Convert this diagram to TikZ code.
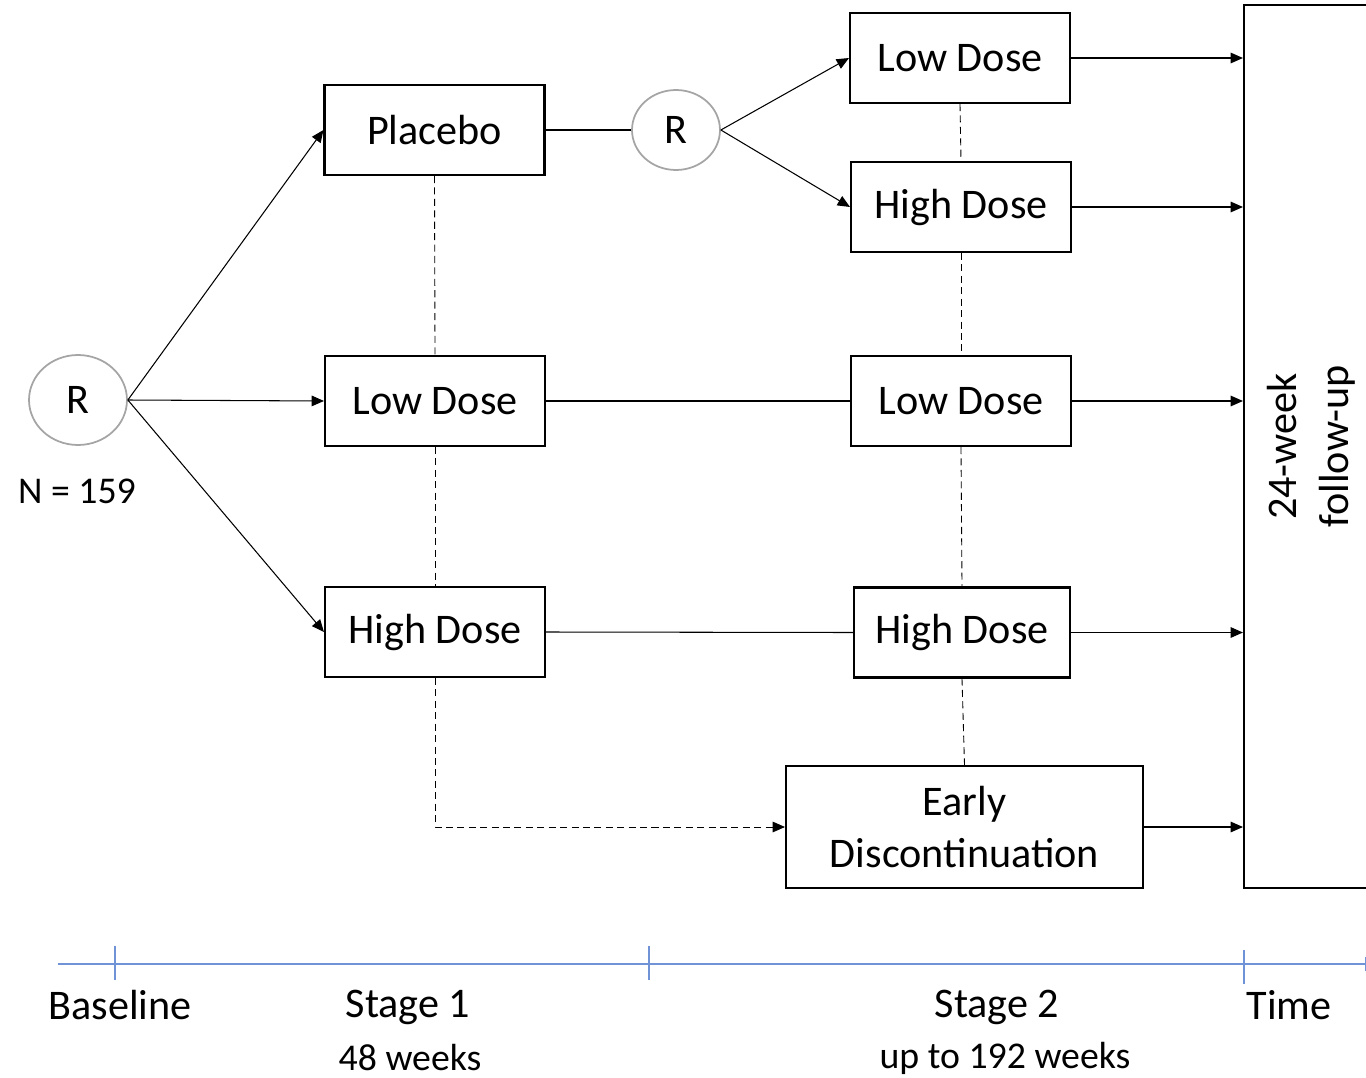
\documentclass[tikz,border=0pt]{standalone}
\usepackage{fontspec}
\setmainfont{Carlito}
\usetikzlibrary{arrows.meta,shapes.geometric}
\definecolor{axBlue}{RGB}{112,146,214}
\definecolor{rGray}{RGB}{165,165,165}

\begin{document}
\begin{tikzpicture}[x=0.02cm, y=-0.02cm,
  font=\fontsize{24}{29.5}\selectfont,
  small/.style={font=\fontsize{21.5}{26}\selectfont},
  box/.style={draw, line width=1.2pt, minimum width=4.4cm, minimum height=1.8cm, inner sep=2pt, align=center},
  rnd/.style={draw=rGray, line width=1pt, ellipse, minimum width=1.96cm, minimum height=1.8cm, inner sep=0pt},
  arr/.style={-{Triangle[length=7pt,width=6pt]}, line width=0.6pt},
  lnk/.style={line width=0.6pt},
  dsh/.style={line width=0.5pt, dash pattern=on 4pt off 2.5pt},
  axis/.style={axBlue, line width=0.8pt, -{Rays[n=2,length=5pt,width=8pt]}},
  axtick/.style={axBlue, line width=0.8pt},
]
\useasboundingbox (0,0) rectangle (1366,1078);
% stage 1
\node[rnd] (r1) at (78,400) {R};
\node[small] (n) at (77,491) {N = 159};
\node[box] (plac) at (434.5,130) {Placebo};
\node[box] (low1) at (435,401) {Low Dose};
\node[box] (high1) at (435,632) {High Dose};
\draw[arr] (r1.east) -- (plac.west);
\draw[arr] (r1.east) -- (low1.west);
\draw[arr] (r1.east) -- (high1.west);
% stage 2
\node[rnd, minimum width=1.76cm, minimum height=1.6cm] (r2) at (676,130) {R};
\node[box] (low2a) at (960,58) {Low Dose};
\node[box] (high2a) at (961,207) {High Dose};
\node[box] (low2b) at (961,401) {Low Dose};
\node[box, minimum width=4.32cm] (high2b) at (962,632.5) {High Dose};
\node[box, minimum width=7.14cm, minimum height=2.44cm] (early) at (964.5,827) {Early\\Discontinuation};
\draw[lnk] (plac.east) -- (r2.west);
\draw[arr] (r2.east) -- (low2a.west);
\draw[arr] (r2.east) -- (high2a.west);
\draw[lnk] (low1.east) -- (low2b.west);
\draw[lnk] (high1.east) -- (high2b.west);
% dashed links
\draw[dsh] (plac.south) -- (low1.north);
\draw[dsh] (low1.south) -- (high1.north);
\draw[dsh, -{Triangle[length=7pt,width=6pt]}] (high1.south) |- (early.west);
\draw[dsh] (low2a.south) -- (high2a.north);
\draw[dsh] (high2a.south) -- (low2b.north);
\draw[dsh] (low2b.south) -- (high2b.north);
\draw[dsh] (high2b.south) -- (early.north);
% follow-up (rotated, so north is its left side)
\node[box, rotate=90, minimum width=17.66cm, minimum height=2.7cm] (fu) at (1311.5,446.5) {24-week\\follow-up};
\foreach \b in {low2a,high2a,low2b,high2b,early}
  \draw[arr] (\b.east) -- (\b.east -| fu.north);
% time axis
\coordinate (ax0) at (58,964);
\coordinate (ax1) at (1366,964);
\draw[axis] (ax0) -- (ax1);
\foreach \x/\t in {115/946,649/946,1244/950}
  \draw[axtick] (\x,\t) -- (\x,\t+34);
\node (base) at (120,1005) {Baseline};
\node (st1) at (408,1007) {Stage 1};
\node[small] (wk1) at (410,1058) {48 weeks};
\node (st2) at (997,1007) {Stage 2};
\node[small] (wk2) at (1005,1058) {up to 192 weeks};
\node (time) at (1289,1005) {Time};
\end{tikzpicture}
\end{document}
